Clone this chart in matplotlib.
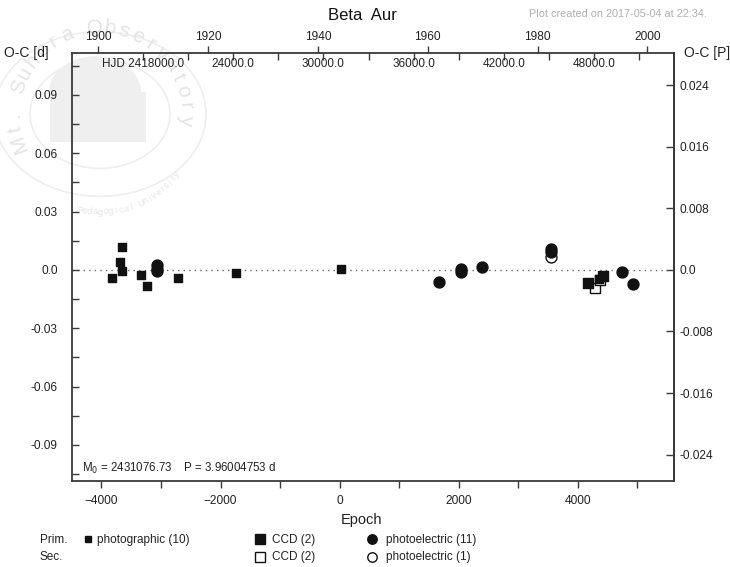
import numpy as np
import matplotlib
matplotlib.use("Agg")
import matplotlib.pyplot as plt
from matplotlib.ticker import MultipleLocator, FixedLocator, FuncFormatter, NullFormatter
from matplotlib.patches import Circle, Wedge, Rectangle
from matplotlib import font_manager

# ephemeris
M0 = 2431076.73
P = 3.96004753

# O-C data: epoch, O-C [d]
phot_epoch = [-3819, -3696, -3663, -3663, -3332, -3243, -2723, -1745, 20, 4357]
phot_oc = [-0.0043, 0.0040, 0.0120, -0.0005, -0.0027, -0.0084, -0.0040, -0.0017, 0.0005, -0.0046]

ccd_pri_epoch = [4173, 4430]
ccd_pri_oc = [-0.0066, -0.0031]

ccd_sec_epoch = [4295.5, 4380.5]
ccd_sec_oc = [-0.0092, -0.0052]

pe_pri_epoch = [-3067, -3067, -3067, 1673, 2037, 2037, 2399, 3552, 3552, 4738, 4923]
pe_pri_oc = [0.0026, 0.0004, -0.0008, -0.0064, 0.0004, -0.0010, 0.0017, 0.0105, 0.0090, -0.0012, -0.0073]

pe_sec_epoch = [3552.5]
pe_sec_oc = [0.0068]

year_ticks = [1900, 1920, 1940, 1960, 1980, 2000]
hjd_minor = np.arange(2418000, 2451001, 3000)
hjd_labels = [2418000, 2424000, 2430000, 2436000, 2442000, 2448000]
right_ticks = [-0.024, -0.016, -0.008, 0.0, 0.008, 0.016, 0.024]

available = {f.name for f in font_manager.fontManager.ttflist}
NARROW = "Liberation Sans Narrow" if "Liberation Sans Narrow" in available else "Liberation Sans"
REG = "Liberation Sans"
plt.rcParams["font.family"] = [REG, "DejaVu Sans"]

W, H = 730, 567
fig = plt.figure(figsize=(W / 100, H / 100), dpi=100)
fig.patch.set_facecolor("white")


def fx(x):
    return x / W


def fy(y):
    return 1 - y / H


# faint observatory seal behind the plot
wm = "#e4e4e4"
cx, cy = 100, 114


def arc_text(s, r, a0, a1, size, top=True):
    for ch, a in zip(s, np.linspace(a0, a1, len(s))):
        x = cx + r * np.cos(np.radians(a))
        y = cy - r * np.sin(np.radians(a))
        rot = a - 90 if top else a + 90
        fig.text(fx(x), fy(y), ch, rotation=rot, ha="center", va="center",
                 fontsize=size, color=wm, zorder=-5, family=REG)


arc_text("Mt. Suhora Observatory", 86, 200, -4, 15, top=True)
arc_text("Pedagogical University", 98, 258, 322, 6.5, top=False)
for r in (106, 70):
    fig.patches.append(Circle((fx(cx), fy(cy)), r / W, transform=fig.transFigure,
                              fill=False, ec="#eeeeee", lw=1.2, zorder=-6))
fig.patches.append(Wedge((fx(cx - 5), fy(92)), 46 / W, 0, 180, transform=fig.transFigure,
                         fc="#efefef", ec="none", zorder=-6))
fig.patches.append(Rectangle((fx(50), fy(142)), 96 / W, 50 / H, transform=fig.transFigure,
                             fc="#efefef", ec="none", zorder=-6))

ax = fig.add_axes([fx(71.7), fy(481), (674 - 71.7) / W, (481 - 52.7) / H])
ax.patch.set_alpha(0)
ax.set_xlim(-4500, 5616)
ax.set_ylim(-0.1086, 0.1117)

for s in ax.spines.values():
    s.set_color("#3a3a3a")
    s.set_linewidth(1.3)

ax.axhline(0, color="#666666", lw=1.0, ls=(0, (1, 3)), zorder=1)

# secondary minima first, primaries on top
ax.scatter(ccd_sec_epoch, ccd_sec_oc, marker="s", s=42, facecolor="white",
           edgecolor="#111111", linewidth=1.0, zorder=3)
ax.scatter(pe_sec_epoch, pe_sec_oc, marker="o", s=62, facecolor="white",
           edgecolor="#111111", linewidth=1.0, zorder=3)
ax.scatter(phot_epoch, phot_oc, marker="s", s=36, color="#111111", zorder=4)
ax.scatter(ccd_pri_epoch, ccd_pri_oc, marker="s", s=42, color="#111111", zorder=4)
ax.scatter(pe_pri_epoch, pe_pri_oc, marker="o", s=62, color="#111111", zorder=4)

tick_kw = dict(colors="#3a3a3a", labelcolor="#222222", labelsize=8.6, width=1.0)

# bottom axis: epoch
ax.xaxis.set_major_locator(MultipleLocator(2000))
ax.xaxis.set_minor_locator(MultipleLocator(1000))
ax.xaxis.set_major_formatter(FuncFormatter(lambda v, p: f"{v:.0f}".replace("-", "\u2212")))
ax.tick_params(axis="x", which="both", direction="out", length=5, pad=5, **tick_kw)

# left axis: O-C in days
ax.yaxis.set_major_locator(MultipleLocator(0.03))
ax.yaxis.set_minor_locator(MultipleLocator(0.015))
ax.yaxis.set_major_formatter(FuncFormatter(lambda v, p: "0.0" if abs(v) < 1e-9 else f"{v:.2f}"))
ax.tick_params(axis="y", which="both", direction="in", length=5, pad=10, **tick_kw)
for lab in ax.get_xticklabels() + ax.get_yticklabels():
    lab.set_family(NARROW)

# right axis: O-C in periods
ry = ax.secondary_yaxis("right", functions=(lambda d: d / P, lambda p: p * P))
ry.yaxis.set_major_locator(FixedLocator(right_ticks))
ry.yaxis.set_major_formatter(FuncFormatter(lambda v, p: "0.0" if abs(v) < 1e-9 else f"{v:.3f}"))
ry.tick_params(axis="y", direction="in", length=6, pad=4, **tick_kw)
ry.spines["right"].set_color("#3a3a3a")
ry.spines["right"].set_linewidth(1.3)
for lab in ry.get_yticklabels():
    lab.set_family(NARROW)


def e2hjd(e):
    return M0 + P * np.asarray(e, float)


def hjd2e(h):
    return (np.asarray(h, float) - M0) / P


def e2year(e):
    return 1900 + (e2hjd(e) - 2415020.5) / 365.25


def year2e(y):
    return hjd2e(2415020.5 + (np.asarray(y, float) - 1900) * 365.25)


# top axis: calendar years
ty = ax.secondary_xaxis("top", functions=(e2year, year2e))
ty.xaxis.set_major_locator(FixedLocator(year_ticks))
ty.xaxis.set_major_formatter(FuncFormatter(lambda v, p: f"{v:.0f}"))
ty.tick_params(axis="x", direction="out", length=5, pad=2, **tick_kw)
ty.spines["top"].set_visible(False)
for lab in ty.get_xticklabels():
    lab.set_family(NARROW)

# top axis: heliocentric JD
th = ax.secondary_xaxis("top", functions=(e2hjd, hjd2e))
th.xaxis.set_major_locator(FixedLocator(hjd_minor))
th.xaxis.set_major_formatter(NullFormatter())
th.tick_params(axis="x", direction="in", length=5, **tick_kw)
th.spines["top"].set_visible(False)

tr = ax.get_xaxis_transform()
for i, h in enumerate(hjd_labels):
    txt = f"HJD {h:.1f}" if i == 0 else f"{h - 2400000:.1f}"
    ax.text(hjd2e(h), 1 - 11 / (481 - 52.7), txt, transform=tr, ha="center", va="center",
            fontsize=8.5, color="#222222", family=REG)

ax.text(fx(82 - 71.7) / ((674 - 71.7) / W), 1 - (468 - 52.7) / (481 - 52.7),
        r"M$_0$ = 2431076.73    P = 3.96004753 d", transform=ax.transAxes,
        ha="left", va="center", fontsize=8.3, color="#222222", family=REG)

# titles and axis captions
fig.text(fx(362), fy(15), "Beta  Aur", ha="center", va="center", fontsize=12, color="#111111")
fig.text(fx(707), fy(14), "Plot created on 2017-05-04 at 22:34.", ha="right", va="center",
         fontsize=7.8, color="#b0b0b0")
fig.text(fx(4), fy(53), "O-C [d]", ha="left", va="center", fontsize=10, color="#222222")
fig.text(fx(684), fy(53), "O-C [P]", ha="left", va="center", fontsize=10, color="#222222")
fig.text(fx(362), fy(520), "Epoch", ha="center", va="center", fontsize=10.5, color="#222222")

# legend
leg_rows = {"Prim.": 540, "Sec.": 557}
for lab, y in leg_rows.items():
    fig.text(fx(40), fy(y), lab, ha="left", va="center", fontsize=8.5, color="#222222")

lax = fig.add_axes([0, 0, 1, 1], zorder=-1)
lax.set_xlim(0, W)
lax.set_ylim(H, 0)
lax.axis("off")
lax.plot([88], [539], "s", ms=4.2, color="#111111")
lax.plot([260], [539], "s", ms=6.5, color="#111111")
lax.plot([372], [539], "o", ms=6.8, color="#111111")
lax.plot([260], [557], "s", ms=6.5, mfc="white", mec="#111111", mew=1.0)
lax.plot([372], [557], "o", ms=6.8, mfc="white", mec="#111111", mew=1.0)

leg_text = [(97, 540, "photographic (10)"), (272, 540, "CCD (2)"),
            (386, 540, "photoelectric (11)"), (272, 557, "CCD (2)"),
            (386, 557, "photoelectric (1)")]
for x, y, t in leg_text:
    fig.text(fx(x), fy(y), t, ha="left", va="center", fontsize=8.5, color="#222222")

fig.savefig("out.png", dpi=100)
